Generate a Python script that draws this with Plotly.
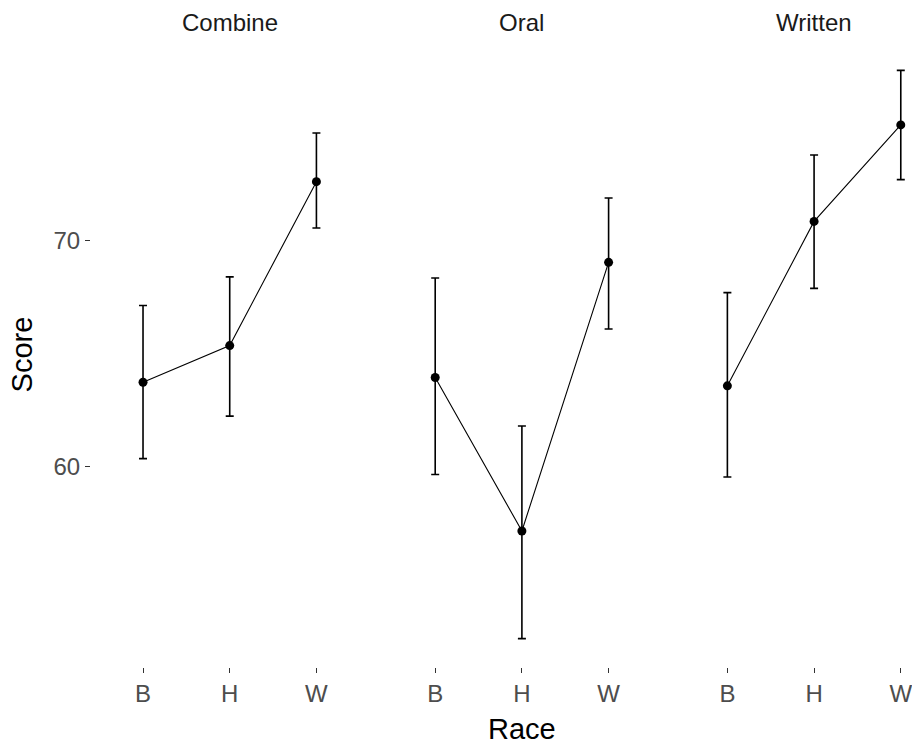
import plotly.graph_objects as go

# ---- data ----
panels = ["Combine", "Oral", "Written"]
races = ["B", "H", "W"]

combine_mean = [63.73, 65.35, 72.60]
combine_upper = [67.12, 68.39, 74.75]
combine_lower = [60.35, 62.23, 70.55]

oral_mean = [63.94, 57.15, 69.03]
oral_upper = [68.34, 61.79, 71.88]
oral_lower = [59.65, 52.39, 66.08]

written_mean = [63.57, 70.84, 75.11]
written_upper = [67.69, 73.78, 77.52]
written_lower = [59.54, 67.88, 72.69]

y_tickvals = [60, 70]

series = [
    (combine_mean, combine_upper, combine_lower),
    (oral_mean, oral_upper, oral_lower),
    (written_mean, written_upper, written_lower),
]

# ---- layout constants (facet geometry, ggplot-like) ----
EXPAND = 0.6          # discrete axis expansion on each side
GAP = 0.17            # panel spacing in category units
STRIDE = (len(races) - 1) + 2 * EXPAND + GAP
W, H = 912, 746
ML, MR, MT, MB = 91, 0, 42, 79
FONT = "Liberation Sans, Arial, sans-serif"

fig = go.Figure()

tickvals, ticktext = [], []
for p, (mean, up, lo) in enumerate(series):
    xs = [p * STRIDE + i for i in range(len(races))]
    tickvals += xs
    ticktext += races
    fig.add_trace(go.Scatter(
        x=xs, y=mean, mode="lines+markers",
        line=dict(color="black", width=1.1),
        marker=dict(color="black", size=9),
        error_y=dict(type="data", symmetric=False,
                     array=[u - m for u, m in zip(up, mean)],
                     arrayminus=[m - l for m, l in zip(mean, lo)],
                     color="black", thickness=1.6, width=4),
        showlegend=False, hoverinfo="skip",
    ))

all_vals = combine_upper + combine_lower + oral_upper + oral_lower + written_upper + written_lower
ymin, ymax = min(all_vals), max(all_vals)
span = ymax - ymin
yrange = [ymin - 0.05 * span, ymax + 0.05 * span]

plot_w = W - ML - MR
px_per_unit = 86.7
xrange = [-EXPAND, -EXPAND + plot_w / px_per_unit]

fig.update_layout(
    width=W, height=H,
    margin=dict(l=ML, r=MR, t=MT, b=MB, pad=0),
    paper_bgcolor="white", plot_bgcolor="white",
    font=dict(family=FONT, color="black"),
    xaxis=dict(range=xrange, tickvals=tickvals, ticktext=ticktext,
               showgrid=False, zeroline=False, showline=False,
               ticks="outside", ticklen=5, tickwidth=1.1, tickcolor="#333333",
               ticklabeloverflow="allow",
               tickfont=dict(size=24, color="#4D4D4D", family=FONT)),
    yaxis=dict(range=yrange, tickvals=y_tickvals,
               showgrid=False, zeroline=False, showline=False,
               ticks="outside", ticklen=5, tickwidth=1.1, tickcolor="#333333",
               tickfont=dict(size=24, color="#4D4D4D", family=FONT),
               title=dict(text="Score", font=dict(size=29, color="black", family=FONT),
                          standoff=12)),
)

# strip labels
for p, name in enumerate(panels):
    fig.add_annotation(
        x=p * STRIDE + (len(races) - 1) / 2, xref="x",
        y=1, yref="paper", yanchor="bottom", yshift=4,
        text=name, showarrow=False,
        font=dict(size=24, color="#1A1A1A", family=FONT),
    )

# x axis title, centred under the middle panel
fig.add_annotation(
    x=1 * STRIDE + (len(races) - 1) / 2, xref="x",
    y=0, yref="paper", yanchor="top", yshift=-44,
    text="Race", showarrow=False,
    font=dict(size=29, color="black", family=FONT),
)

fig.write_html("out.html")
